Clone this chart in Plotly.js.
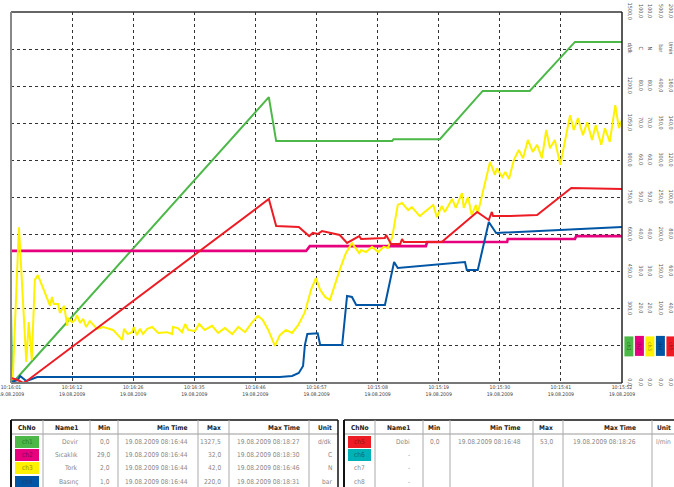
<!DOCTYPE html>
<html><head><meta charset="utf-8">
<script src="https://cdn.plot.ly/plotly-3.0.1.min.js"></script>
<style>html,body{margin:0;padding:0;background:#fff}#c{width:674px;height:487px}</style>
</head><body><div id="c"></div>
<script>
// ---- X axis (time labels) ----
const xTickVals = [0,1,2,3,4,5,6,7,8,9,10];
const xTickTimes = ['10:16:01','10:16:12','10:16:26','10:16:35','10:16:46','10:16:57','10:15:08','10:15:19','10:15:30','10:15:41','10:15:52'];
const xTickDate = '19.08.2009';

// ---- Channel scales (right axes) ----
const ch1Ticks = [0,150,300,450,600,750,900,1050,1200,1350,1500];
const ch2Ticks = [0,10,20,30,40,50,60,70,80,90,100];
const ch3Ticks = [0,10,20,30,40,50,60,70,80,90,100];
const ch4Ticks = [0,50,100,150,200,250,300,350,400,450,500];
const ch5Ticks = [0,20,40,60,80,100,120,140,160,180,200];
const units = ['d/dk','C','N','bar','l/min'];
const chNames = ['ch1','ch2','ch3','ch4','ch5'];

// ---- Series ----
// ch1 Devir (d/dk)
const ch1X = [0, 0.02, 0.08, 4.22, 4.34, 6.24, 6.26, 7.02, 7.72, 8.49, 9.23, 10];
const ch1Y = [295, 0, 15, 1156, 978, 978, 986, 986, 1181, 1181, 1379, 1379];
// ch2 Sıcaklık (C)
const ch2X = [0, 4.83, 4.89, 6.79, 6.81, 8.12, 8.13, 9.23, 9.25, 10];
const ch2Y = [35.6, 35.6, 36.9, 36.9, 38.0, 38.0, 38.8, 38.8, 39.6, 39.6];
// ch3 Tork (N)
const ch3X = [0.016,0.033,0.13,0.25,0.29,0.34,0.39,0.44,0.64,0.67,0.70,0.77,0.80,0.87,0.92,0.93,1.00,1.05,1.08,1.13,1.18,1.23,1.29,1.41,1.51,1.67,1.75,1.82,1.85,1.91,1.98,2.01,2.06,2.11,2.16,2.23,2.31,2.41,2.55,2.64,2.65,2.73,2.80,2.85,2.90,3.01,3.08,
  3.17,3.29,3.39,3.50,3.62,3.72,3.83,3.94,4.04,4.12,4.21,4.32,4.40,4.50,4.60,4.70,4.81,4.91,4.99,5.06,5.14,5.22,5.32,5.38,5.48,5.58,5.70,5.73,5.81,5.91,6.01,6.10,6.17,6.24,6.33,6.40,6.50,6.56,6.69,6.91,6.97,7.05,7.10,7.22,7.28,7.38,7.41,7.48,7.54,7.61,7.64,7.84,7.92,7.95,8.04,8.09,8.15,
  8.23,8.31,8.38,8.46,8.54,8.61,8.69,8.76,8.82,8.90,8.99,9.07,9.15,9.21,9.28,9.36,9.43,9.51,9.57,9.66,9.72,9.80,9.89,9.95,10.0];
const ch3Y = [0.8,3.0,42.0,5.7,16.4,6.2,27.8,29.1,20.8,23.2,21.3,21.3,18.9,20.8,15.4,17.5,16.4,17.0,18.3,16.2,17.3,15.1,16.7,14.6,15.1,14.3,12.9,11.6,14.6,13.2,13.7,15.1,12.9,14.6,13.2,14.6,15.1,13.5,13.7,13.2,15.1,14.8,13.7,15.9,14.3,14.0,15.9,
  14.3,15.4,13.5,14.8,13.2,15.1,13.7,16.2,18.1,17.0,14.3,10.0,12.9,14.3,13.5,15.6,19.1,25.1,28.3,25.1,23.2,22.4,27.8,30.5,35.0,37.7,35.0,35.8,35.3,36.7,35.3,36.7,36.4,39.4,48.0,48.5,46.6,47.4,45.0,48.0,44.7,47.7,46.1,49.6,47.2,51.2,47.2,50.1,45.3,48.0,45.8,59.6,56.1,57.9,55.5,56.9,55.0,
  60.1,62.8,60.6,65.5,62.3,64.2,60.6,68.2,63.3,65.5,58.8,65.5,72.2,68.2,71.4,66.8,70.3,65.5,69.5,64.2,68.7,65.0,74.9,68.7,70.9];
// ch4 Basınç (bar)
const ch4X = [0, 0.11, 0.15, 0.25, 0.43, 4.40, 4.60, 4.71, 4.78, 4.81, 4.85, 5.02, 5.06, 5.42, 5.50, 5.58, 5.65, 6.12, 6.27, 6.33, 7.43, 7.46, 7.64, 7.82, 7.94, 10];
const ch4Y = [1.3, 4.0, 9.4, 2.7, 8.1, 8.1, 9.4, 13.5, 22.9, 51, 66, 67, 51.2, 51.2, 117.3, 115.9, 105.1, 105.1, 163.1, 155.0, 163.1, 152.3, 152.3, 217.0, 202.2, 210.2];
// ch5 Debi (l/min)
const ch5X = [0, 0.11, 0.20, 0.28, 4.22, 4.34, 4.71, 4.88, 4.94, 5.02, 5.09, 5.38, 5.50, 5.70, 5.73, 6.12, 6.14, 6.22, 6.37, 6.40, 6.43, 7.05, 7.63, 7.76, 7.82, 7.87, 7.89, 8.17, 8.61, 9.17, 10];
const ch5Y = [2.7, 1.6, 0, 1.6, 99.2, 84.6, 84.1, 79.2, 80.9, 80.3, 81.9, 79.8, 75.5, 79.2, 77.6, 78.2, 79.8, 74.9, 74.9, 77.6, 76.0, 76.0, 92.2, 89.5, 87.9, 92.2, 90.0, 90.0, 90.6, 105.1, 104.6];

// ---- Table ----
const tblHeader = ['ChNo','Name1','Min','Min Time','Max','Max Time','Unit'];
const leftChNo = ['ch1','ch2','ch3','ch4'];
const leftName = ['Devir','Sıcaklık','Tork','Basınç'];
const leftMin = ['0,0','29,0','2,0','1,0'];
const leftMinTime = ['19.08.2009 08:16:44','19.08.2009 08:16:44','19.08.2009 08:16:44','19.08.2009 08:16:44'];
const leftMax = ['1327,5','32,0','42,0','220,0'];
const leftMaxTime = ['19.08.2009 08:18:27','19.08.2009 08:18:30','19.08.2009 08:16:46','19.08.2009 08:18:31'];
const leftUnit = ['d/dk','C','N','bar'];
const rightChNo = ['ch5','ch6','ch7','ch8'];
const rightName = ['Debi','-','-','-'];
const rightMin = ['0,0','','',''];
const rightMinTime = ['19.08.2009 08:16:48','','',''];
const rightMax = ['53,0','','',''];
const rightMaxTime = ['19.08.2009 08:18:26','','',''];
const rightUnit = ['l/min','','',''];

// ---- Styling ----
const colors = ['#4cb848','#e6007e','#fff200','#0055a5','#ed1c24'];
const teal = '#00b2b8';
const W = 674, H = 487;
const px = v => v / W, py = v => 1 - v / H;
const FONT = 'DejaVu Sans Condensed, Liberation Sans Narrow, Arial Narrow, sans-serif';
const fmt = v => v.toFixed(1).replace('.', ',');

const plotL = 11, plotR = 622, plotT = 12, plotB = 383;
const axisPos = [626, 637, 646, 657, 667];
const badgeX = [634, 644.5, 655, 665.5, 676];

const tickSets = [ch1Ticks, ch2Ticks, ch3Ticks, ch4Ticks, ch5Ticks];
function tickText(ticks, unit) {
  return ticks.map((v, i) => i === ticks.length - 2 ? unit : (i === 1 ? '' : fmt(v)));
}

const traces = [
  {x: ch1X, y: ch1Y, yaxis: 'y', line: {color: colors[0], width: 2}},
  {x: ch2X, y: ch2Y, yaxis: 'y2', line: {color: colors[1], width: 2.6}},
  {x: ch3X, y: ch3Y, yaxis: 'y3', line: {color: colors[2], width: 2}},
  {x: ch4X, y: ch4Y, yaxis: 'y4', line: {color: colors[3], width: 2}},
  {x: ch5X, y: ch5Y, yaxis: 'y5', line: {color: colors[4], width: 2}},
].map(t => Object.assign({type: 'scatter', mode: 'lines', xaxis: 'x', hoverinfo: 'skip', showlegend: false}, t));

const shapes = [];
const annotations = [];
const tblTop = 420, headBottom = 434;
const rowY = [428, 442, 455, 468, 482];
const rowH = 13;

function drawTable(x0, widths, pads, cols, chColors, chTextColors) {
  const total = widths.reduce((a, b) => a + b, 0);
  // frame
  shapes.push({type: 'line', xref: 'paper', yref: 'paper', x0: px(x0), x1: px(x0 + total), y0: py(tblTop), y1: py(tblTop), line: {color: '#111', width: 1.5}});
  shapes.push({type: 'line', xref: 'paper', yref: 'paper', x0: px(x0), x1: px(x0 + total), y0: py(headBottom), y1: py(headBottom), line: {color: '#999', width: 1}});
  shapes.push({type: 'line', xref: 'paper', yref: 'paper', x0: px(x0), x1: px(x0), y0: py(tblTop), y1: 0, line: {color: '#111', width: 2}});
  let edge = x0;
  widths.forEach((w, j) => {
    const left = edge;
    edge += w;
    if (j < widths.length - 1)
      shapes.push({type: 'line', xref: 'paper', yref: 'paper', x0: px(edge), x1: px(edge), y0: py(tblTop), y1: 0, line: {color: '#aaa', width: 1}});
    // header
    annotations.push({
      xref: 'paper', yref: 'paper', showarrow: false,
      x: j === 0 ? px((left + edge) / 2) : px(edge - pads[j]), xanchor: j === 0 ? 'center' : 'right',
      y: py(rowY[0]), yanchor: 'middle',
      text: '<b>' + tblHeader[j] + '</b>', font: {family: FONT, size: 6.6, color: '#222'}
    });
    cols[j].forEach((v, r) => {
      if (j === 0 && chColors[r]) {
        shapes.push({type: 'rect', xref: 'paper', yref: 'paper', layer: 'below',
          x0: px(left + 4), x1: px(edge - 4), y0: py(rowY[r + 1] - rowH / 2 + 0.5), y1: py(rowY[r + 1] + rowH / 2 - 0.5),
          fillcolor: chColors[r], line: {width: 0}});
      }
      if (v === '') return;
      annotations.push({
        xref: 'paper', yref: 'paper', showarrow: false,
        x: j === 0 ? px((left + edge) / 2) : px(edge - pads[j]), xanchor: j === 0 ? 'center' : 'right',
        y: py(rowY[r + 1]), yanchor: 'middle',
        text: v, font: {family: FONT, size: 6.6, color: j === 0 ? chTextColors[r] : '#888'}
      });
    });
  });
  shapes.push({type: 'line', xref: 'paper', yref: 'paper', x0: px(x0 + total), x1: px(x0 + total), y0: py(tblTop), y1: 0, line: {color: '#111', width: 1.5}});
}
drawTable(11, [32,47,28,80,31,80,29], [0,10,6,8,6,7,4],
  [leftChNo, leftName, leftMin, leftMinTime, leftMax, leftMaxTime, leftUnit],
  [colors[0], colors[1], colors[2], colors[3]],
  ['#2b7a2a', '#8a0050', '#9a8f00', '#1e3f6e']);
drawTable(344, [31,48,27,83,30,89,23], [0,11,8,10,8,14,2],
  [rightChNo, rightName, rightMin, rightMinTime, rightMax, rightMaxTime, rightUnit],
  [colors[4], teal, null, null],
  ['#9a1015', '#0a6a6e', '#888', '#888']);

// plot frame
shapes.push({type: 'line', xref: 'paper', yref: 'paper', x0: px(plotL), x1: px(plotR), y0: py(plotT), y1: py(plotT), line: {color: '#333', width: 1.5}});
shapes.push({type: 'line', xref: 'paper', yref: 'paper', x0: px(plotL), x1: px(plotR), y0: py(plotB), y1: py(plotB), line: {color: '#777', width: 2}});
shapes.push({type: 'line', xref: 'paper', yref: 'paper', x0: px(plotL), x1: px(plotL), y0: py(plotT), y1: py(plotB), line: {color: '#888', width: 2}});
shapes.push({type: 'line', xref: 'paper', yref: 'paper', x0: px(plotR), x1: px(plotR), y0: py(plotT), y1: py(plotB), line: {color: '#222', width: 1.5}});

const tickFont = {family: FONT, size: 5.5, color: '#555'};
const layout = {
  width: W, height: H,
  margin: {l: 0, r: 0, t: 0, b: 0},
  paper_bgcolor: '#fff', plot_bgcolor: '#fff',
  showlegend: false,
  xaxis: {
    domain: [px(plotL), px(plotR)], range: [0, 10],
    tickvals: xTickVals, ticktext: xTickTimes.map(t => t + '<br>' + xTickDate),
    tickangle: 0, tickfont: {family: FONT, size: 5.1, color: '#444'}, ticklabeloverflow: 'allow',
    showgrid: true, gridcolor: '#333', griddash: 'dot', gridwidth: 1,
    zeroline: false, showline: false, ticks: '', anchor: 'y'
  },
  shapes: shapes,
  annotations: annotations
};
const yDomain = [py(plotB), py(plotT)];
const ranges = [[0,1500],[0,100],[0,100],[0,500],[0,200]];
for (let i = 0; i < 5; i++) {
  const key = i === 0 ? 'yaxis' : 'yaxis' + (i + 1);
  const ax = {
    domain: yDomain, range: ranges[i], side: 'right', anchor: 'free', position: px(axisPos[i]),
    tickvals: tickSets[i], ticktext: tickText(tickSets[i], units[i]),
    tickangle: 90, tickfont: tickFont, ticks: '', ticklabeloverflow: 'allow',
    showgrid: i === 0, gridcolor: '#333', griddash: 'dot', gridwidth: 1,
    zeroline: false, showline: false
  };
  if (i > 0) ax.overlaying = 'y';
  layout[key] = ax;
  annotations.push({
    xref: 'paper', yref: i === 0 ? 'y' : 'y' + (i + 1), x: px(badgeX[i]), y: tickSets[i][1],
    text: chNames[i], textangle: 90, showarrow: false,
    bgcolor: colors[i], width: 17, height: 6, borderpad: 1,
    font: {family: FONT, size: 5.5, color: 'rgba(0,0,0,0.45)'}
  });
}
Plotly.newPlot('c', traces, layout, {staticPlot: true, displayModeBar: false});
</script></body></html>
